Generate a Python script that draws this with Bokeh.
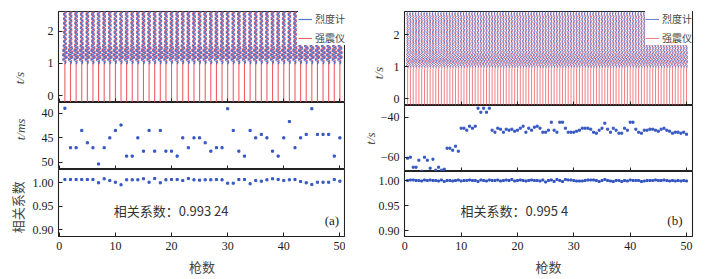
import numpy as np
from bokeh.plotting import figure
from bokeh.layouts import row, column
from bokeh.models import Range1d, Label, FixedTicker, NumeralTickFormatter, Legend, LegendItem
from bokeh.embed import file_html
from bokeh.resources import INLINE

# ---------------- data ----------------
shots_a = list(range(1, 51))
delay_a = [39, 47, 47, 43.5, 46, 47, 50.3, 47, 45, 43.5,
           42.4, 48.7, 48.7, 45, 47.7, 43.5, 47.7, 43.5, 47.7, 47.7,
           48.7, 45, 47, 45, 45, 46, 47.7, 47, 47, 39.1,
           43.5, 47.7, 48.7, 43.5, 45, 44.3, 45, 47.7, 48.7, 45,
           41.7, 47, 45, 44.3, 39.1, 44.3, 44.3, 44.3, 48.7, 45]
corr_a = [1.0063, 1.0063, 1.0063, 1.0063, 1.0063, 1.0063, 0.9994, 1.0078, 1.0042, 1.0006,
          0.9952, 1.0057, 1.0057, 1.0057, 1.0078, 1.0006, 1.0084, 0.9994, 1.0057, 1.0063,
          1.0063, 1.0042, 1.0084, 1.0057, 1.0050, 1.0057, 1.0057, 1.0063, 1.0057, 0.9986,
          0.9986, 1.0063, 1.0063, 0.9973, 1.0042, 1.0028, 1.0057, 1.0078, 1.0063, 1.0042,
          1.0057, 1.0063, 1.0021, 0.9994, 0.9958, 1.0006, 1.0006, 1.0006, 1.0063, 1.0028]

shots_b = list(np.arange(1, 101) * 0.5)
delay_b = [-60.5, -60, -65, -65, -61.5, -67, -60, -61.5, -65.5, -61,
           -66.5, -65, -66.5, -66, -55.5, -55.5, -56.5, -54.5, -57, -45.5,
           -45.5, -46.5, -44.5, -45.5, -44.5, -35.5, -37.5, -35.5, -37.5, -35.5,
           -46.5, -47.5, -45.5, -46, -47.5, -46, -46.5, -46, -47, -46.5,
           -45.5, -44.5, -47.5, -45.5, -46.5, -45, -44.5, -45.5, -47.5, -47.5,
           -46.5, -42.5, -46.5, -47.5, -42.5, -42.5, -45.5, -47.5, -47.5, -47.5,
           -47, -46.5, -45.5, -45.5, -45.5, -46, -47.5, -48, -46.5, -45.5,
           -43, -46, -47.5, -45.5, -46.5, -48, -48, -45.5, -46.5, -42.5,
           -42.5, -46, -47.5, -48, -46.5, -46.5, -46, -46, -46.5, -47,
           -46, -45.5, -46.5, -47, -48, -47.5, -47.5, -48, -47.5, -48.5]
corr_b = [1.000, 1.001, 1.001, 1.000, 1.000, 0.999, 1.001, 1.000, 1.001, 1.000,
          1.000, 0.999, 1.001, 0.998, 1.000, 1.000, 0.999, 1.000, 1.001, 0.999,
          1.000, 1.000, 1.001, 1.000, 1.000, 0.998, 1.001, 1.000, 0.999, 1.001,
          1.000, 1.000, 1.001, 0.999, 1.000, 1.001, 1.000, 1.002, 0.999, 1.000,
          1.001, 1.000, 0.999, 1.000, 1.001, 1.000, 1.000, 0.999, 1.001, 0.997,
          1.000, 1.001, 0.998, 1.002, 1.000, 0.998, 1.002, 1.001, 1.001, 1.000,
          0.999, 0.999, 0.999, 1.000, 1.001, 1.001, 1.001, 1.000, 0.998, 1.000,
          1.002, 1.000, 0.999, 0.998, 1.000, 1.000, 0.998, 1.000, 0.999, 1.001,
          1.000, 1.000, 1.000, 0.998, 0.999, 1.000, 1.000, 1.000, 1.001, 1.000,
          1.000, 1.001, 1.000, 0.999, 1.000, 0.999, 1.000, 0.999, 1.000, 0.999]

# waveform templates (time in s, amplitude in shot-spacing units)
wave_a_t = [-0.25, 0.98, 1.04, 1.11, 1.18, 1.25, 1.32, 1.39, 1.46, 1.53, 1.60, 1.67, 1.74,
            1.81, 1.88, 1.95, 2.02, 2.09, 2.16, 2.23, 2.30, 2.37, 2.44, 2.51, 2.58, 2.65]
wave_a_amp = [0, 0, 0.20, -0.42, 0.46, -0.46, 0.46, -0.44, 0.40, -0.34, 0.30, -0.28, 0.28,
              -0.28, 0.28, -0.28, 0.28, -0.28, 0.28, -0.28, 0.28, -0.28, 0.28, -0.28, 0.28, -0.28]
wave_b_t = [-0.25, 0.98, 1.04, 1.11, 1.18, 1.25, 1.32, 1.39, 1.46, 1.53, 1.60, 1.67, 1.74,
            1.81, 1.88, 1.95, 2.02, 2.09, 2.16, 2.23, 2.30, 2.37, 2.44, 2.51, 2.58, 2.65, 2.75]
wave_b_amp = [0, 0, 0.12, -0.22, 0.24, -0.24, 0.24, -0.22, 0.20, -0.16, 0.14, -0.13, 0.13,
              -0.13, 0.13, -0.13, 0.13, -0.13, 0.13, -0.13, 0.13, -0.13, 0.13, -0.13, 0.13, -0.13, 0]

x_ticks = [0, 10, 20, 30, 40, 50]
BLUE = "#4466c8"
RED = "#ec4b55"
DOT = "#3556c0"
TICK_FONT = "Liberation Serif"
CJK = "Noto Sans CJK SC"
NB = "\u00a0"


def make_fig(width, height, xr, yr, mbl, mbr, mbt, mbb, show_x=False):
    p = figure(width=width, height=height, x_range=Range1d(*xr), y_range=Range1d(*yr),
               output_backend="svg", toolbar_location=None,
               min_border_left=mbl, min_border_right=mbr, min_border_top=mbt, min_border_bottom=mbb)
    p.grid.visible = False
    p.outline_line_color = "#222222"
    p.outline_line_width = 1.1
    p.background_fill_color = "white"
    p.border_fill_color = "white"
    for ax in p.axis:
        ax.major_tick_in = 4
        ax.major_tick_out = 0
        ax.minor_tick_in = 0
        ax.minor_tick_out = 0
        ax.axis_line_color = None
        ax.major_tick_line_color = "#222222"
        ax.major_label_text_font = TICK_FONT
        ax.major_label_text_font_size = "12px"
        ax.major_label_text_color = "#1a1a1a"
        ax.major_label_standoff = 5
    p.xaxis.ticker = FixedTicker(ticks=x_ticks)
    if not show_x:
        # keep only the inward tick marks on the shared borders
        p.xaxis.major_label_text_font_size = "0px"
        p.xaxis.major_label_standoff = 0
        p.xaxis.major_label_overrides = {k: "" for k in x_ticks}
    else:
        p.xaxis.axis_label = "枪数"
        p.xaxis.axis_label_text_font = CJK
        p.xaxis.axis_label_text_font_size = "13px"
        p.xaxis.axis_label_text_font_style = "normal"
        p.xaxis.axis_label_standoff = 4
    return p


def ylabel(p, text, standoff, cjk=False):
    p.yaxis.axis_label = text
    p.yaxis.axis_label_standoff = standoff
    p.yaxis.axis_label_text_font_size = "13px"
    if cjk:
        p.yaxis.axis_label_text_font = CJK
        p.yaxis.axis_label_text_font_style = "normal"
    else:
        p.yaxis.axis_label_text_font = TICK_FONT
        p.yaxis.axis_label_text_font_style = "italic"


def traces(p, shots, delays, wt, wa, lw):
    rx, ry, bx, by = [], [], [], []
    for s, d in zip(shots, delays):
        rx.append([s + a for a in wa])
        ry.append([t + d / 1000.0 for t in wt])
        bx.append([s + a for a in wa[1:]])
        by.append(list(wt[1:]))
    red = p.multi_line(rx, ry, line_color=RED, line_width=lw, line_alpha=0.9)
    blue = p.multi_line(bx, by, line_color=BLUE, line_width=lw + 0.1, line_alpha=0.9)
    leg = Legend(items=[LegendItem(label="烈度计", renderers=[blue]),
                        LegendItem(label="强震仪", renderers=[red])],
                 location="top_right", margin=0, padding=7, spacing=4,
                 glyph_width=14, glyph_height=10, label_height=10, label_standoff=3,
                 label_text_font=CJK, label_text_font_size="10px",
                 border_line_color=None, background_fill_alpha=1.0)
    p.add_layout(leg)


# ---------------- left column (a) ----------------
LW = 345
la1 = make_fig(LW, 102, (-0.14, 51.0), (-0.21, 2.61), 58, 0, 11, 0)
la1.yaxis.ticker = FixedTicker(ticks=[0, 1, 2])
ylabel(la1, "t/s" + NB * 13, 18)
traces(la1, shots_a, delay_a, wave_a_t, wave_a_amp, 1.1)

la2 = make_fig(LW, 67, (-0.14, 51.0), (51.42, 37.83), 58, 0, 0, 0)
la2.yaxis.ticker = FixedTicker(ticks=[40, 45, 50])
ylabel(la2, NB * 4 + "t/ms", 11)
la2.scatter(shots_a, delay_a, marker="square", size=2.1, color=DOT)

la3 = make_fig(LW, 110, (-0.14, 51.0), (0.8863, 1.0274), 58, 0, 0, 43, show_x=True)
la3.yaxis.ticker = FixedTicker(ticks=[0.90, 0.95, 1.00])
la3.yaxis.formatter = NumeralTickFormatter(format="0.00")
ylabel(la3, "相关系数" + NB * 3, 3, cjk=True)
la3.scatter(shots_a, corr_a, marker="square", size=2.1, color=DOT)
la3.add_layout(Label(x=9.7, y=0.941, text="相关系数：0.993 24", text_font=CJK,
                     text_font_size="13px", text_baseline="middle", text_color="#333333"))
la3.add_layout(Label(x=47.3, y=0.921, text="(a)", text_font=TICK_FONT,
                     text_font_size="13px", text_baseline="middle", text_color="#1a1a1a"))

# ---------------- right column (b) ----------------
RW = 723 - LW
rb1 = make_fig(RW, 105, (-0.05, 51.06), (-0.215, 2.738), 59, 31, 11, 0)
rb1.yaxis.ticker = FixedTicker(ticks=[0, 1, 2])
ylabel(rb1, "t/s" + NB * 9, 5)
traces(rb1, shots_b, delay_b, wave_b_t, wave_b_amp, 0.8)

rb2 = make_fig(RW, 66, (-0.05, 51.06), (-67.15, -34.15), 59, 31, 0, 0)
rb2.yaxis.ticker = FixedTicker(ticks=[-60, -40])
rb2.yaxis.major_label_overrides = {-60: "\u221260", -40: "\u221240"}
ylabel(rb2, "t/s", 0)
rb2.scatter(shots_b, delay_b, marker="square", size=2.0, color=DOT)

rb3 = make_fig(RW, 108, (-0.05, 51.06), (0.888, 1.018), 59, 31, 0, 43, show_x=True)
rb3.yaxis.ticker = FixedTicker(ticks=[0.90, 0.95, 1.00])
rb3.yaxis.formatter = NumeralTickFormatter(format="0.00")
rb3.scatter(shots_b, corr_b, marker="square", size=2.0, color=DOT)
rb3.add_layout(Label(x=9.9, y=0.94, text="相关系数：0.995 4", text_font=CJK,
                     text_font_size="13px", text_baseline="middle", text_color="#333333"))
rb3.add_layout(Label(x=46.6, y=0.92, text="(b)", text_font=TICK_FONT,
                     text_font_size="13px", text_baseline="middle", text_color="#1a1a1a"))

layout = row(column(la1, la2, la3), column(rb1, rb2, rb3))
open("out.html", "w").write(file_html(layout, INLINE))
